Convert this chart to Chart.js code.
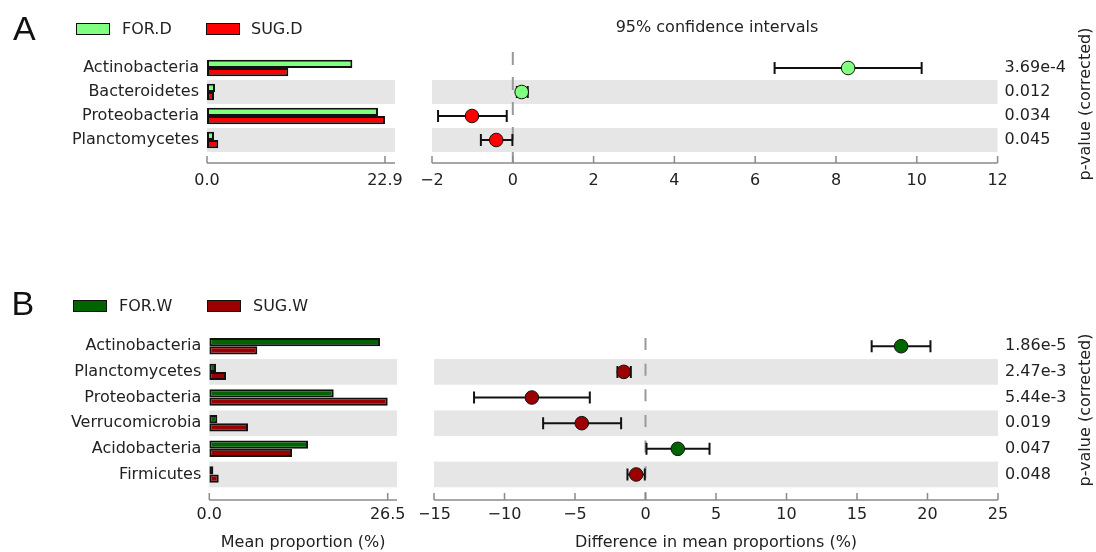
<!DOCTYPE html>
<html><head><meta charset="utf-8">
<script src="https://cdn.jsdelivr.net/npm/chart.js@4.4.0/dist/chart.umd.min.js"></script>
<style>
html,body{margin:0;padding:0;background:#fff;}
#wrap{position:relative;width:1096px;height:552px;overflow:hidden;font-family:'DejaVu Sans',sans-serif;color:#222;}
canvas{position:absolute;}
.txt{position:absolute;white-space:nowrap;font-size:16px;line-height:16px;transform:translateY(-50%);}
.ctr{position:absolute;white-space:nowrap;font-size:16px;line-height:16px;transform:translate(-50%,-50%);}
.letter{position:absolute;font-family:'Liberation Sans',sans-serif;font-size:34px;line-height:34px;color:#111;}
.lbox{position:absolute;box-sizing:border-box;width:34px;height:12px;border:1.5px solid #111;}
.rot{position:absolute;white-space:nowrap;font-size:16px;line-height:16px;transform:translate(-50%,-50%) rotate(-90deg);}
</style></head>
<body><div id="wrap">
<canvas id="barA" width="420" height="200" style="left:0;top:0"></canvas>
<canvas id="ciA" width="676" height="200" style="left:420px;top:0"></canvas>
<canvas id="barB" width="420" height="272" style="left:0;top:280px"></canvas>
<canvas id="ciB" width="676" height="272" style="left:420px;top:280px"></canvas>
</div>
<script>
// ---------- Panel A data ----------
const categoriesA = ['Actinobacteria', 'Bacteroidetes', 'Proteobacteria', 'Planctomycetes'];
const seriesNamesA = ['FOR.D', 'SUG.D'];
const forD = [18.7, 1.03, 22.0, 0.9];
const sugD = [10.46, 0.9, 22.9, 1.45];
const diffA = [8.30, 0.22, -1.01, -0.41];
const ciLowA = [6.48, 0.10, -1.85, -0.79];
const ciHighA = [10.12, 0.37, -0.15, -0.01];
const pValuesA = ['3.69e-4', '0.012', '0.034', '0.045'];
const barTicksA = [0, 22.9];
const ciTicksA = [-2, 0, 2, 4, 6, 8, 10, 12];

// ---------- Panel B data ----------
const categoriesB = ['Actinobacteria', 'Planctomycetes', 'Proteobacteria', 'Verrucomicrobia', 'Acidobacteria', 'Firmicutes'];
const seriesNamesB = ['FOR.W', 'SUG.W'];
const forW = [25.36, 1.0, 18.48, 1.19, 14.67, 0.6];
const sugW = [7.13, 2.48, 26.5, 5.75, 12.29, 1.4];
const diffB = [18.13, -1.54, -8.06, -4.52, 2.29, -0.66];
const ciLowB = [16.04, -1.99, -12.16, -7.26, 0.07, -1.28];
const ciHighB = [20.21, -1.04, -3.95, -1.73, 4.54, -0.05];
const pValuesB = ['1.86e-5', '2.47e-3', '5.44e-3', '0.019', '0.047', '0.048'];
const barTicksB = [0, 26.5];
const ciTicksB = [-15, -10, -5, 0, 5, 10, 15, 20, 25];

const colorsA = ['#80ff80', '#ff0000'];
const colorsB = ['#006400', '#9b0000'];

Chart.defaults.font.family = "'DejaVu Sans', sans-serif";
Chart.defaults.font.size = 16;
Chart.defaults.color = '#222';
Chart.defaults.animation = false;

const fmtMinus = v => (v < 0 ? '\u2212' + Math.abs(v) : String(v));

const panelPlugin = {
  id: 'panel',
  beforeDatasetsDraw(chart, args, o) {
    const {ctx, chartArea: a} = chart;
    const ys = chart.scales.y;
    const rowH = (a.bottom - a.top) / o.n;
    ctx.save();
    ctx.fillStyle = '#e6e6e6';
    for (let i = 1; i < o.n; i += 2) {
      const c = ys.getPixelForValue(i);
      ctx.fillRect(a.left, c - rowH / 2, a.right - a.left, rowH);
    }
    if (o.zero) {
      const x = chart.scales.x.getPixelForValue(0);
      ctx.strokeStyle = '#999';
      ctx.lineWidth = 2;
      ctx.setLineDash(o.dash);
      ctx.beginPath();
      ctx.moveTo(x, o.zeroTop);
      ctx.lineTo(x, a.bottom + o.gap);
      ctx.stroke();
    }
    ctx.restore();
  },
  afterDraw(chart, args, o) {
    const {ctx, chartArea: a} = chart;
    const xs = chart.scales.x;
    const y = a.bottom + o.gap;
    ctx.save();
    ctx.strokeStyle = '#8a8a8a';
    ctx.lineWidth = 1.5;
    ctx.beginPath();
    ctx.moveTo(a.left, y);
    ctx.lineTo(a.right, y);
    xs.ticks.forEach(t => {
      const x = xs.getPixelForValue(t.value);
      ctx.moveTo(x, y);
      ctx.lineTo(x, y - 7);
    });
    ctx.stroke();
    ctx.restore();
  }
};

const noGrid = {display: false, drawTicks: false, tickLength: 0};

function barChart(id, cats, names, s1, s2, colors, ticks, xmax, g) {
  return new Chart(document.getElementById(id), {
    type: 'bar',
    data: {labels: cats, datasets: [
      {label: names[0], data: s1, backgroundColor: colors[0]},
      {label: names[1], data: s2, backgroundColor: colors[1]}
    ]},
    options: {
      indexAxis: 'y', responsive: false, animation: false,
      layout: {padding: {left: 0, right: g.right, top: g.top, bottom: 0}},
      datasets: {bar: {borderColor: '#111', borderWidth: 2, borderSkipped: false,
        categoryPercentage: g.cat, barPercentage: 1}},
      plugins: {legend: {display: false}, tooltip: {enabled: false},
        panel: {n: cats.length, gap: g.gap, zero: false}},
      scales: {
        x: {type: 'linear', min: 0, max: xmax, grid: noGrid, border: {display: false},
          afterBuildTicks: s => { s.ticks = ticks.map(v => ({value: v})); },
          ticks: {padding: g.tickPad, maxRotation: 0, autoSkip: false, callback: v => Number(v).toFixed(1)},
          afterFit: s => { s.height = g.xh; s.paddingLeft = 0; s.paddingRight = 0; },
          title: g.title ? {display: true, text: g.title, padding: 0} : {display: false}},
        y: {grid: noGrid, border: {display: false},
          ticks: {padding: 8, autoSkip: false},
          afterFit: s => { s.width = g.yw; s.paddingTop = 0; s.paddingBottom = 0; }}
      }
    },
    plugins: [panelPlugin]
  });
}

function ciChart(id, diff, lo, hi, pvals, colors, ticks, g) {
  const n = diff.length;
  const datasets = [{
    type: 'scatter', label: 'difference',
    data: diff.map((d, i) => ({x: d, y: i})),
    pointRadius: 6.8, pointBackgroundColor: diff.map(d => d >= 0 ? colors[0] : colors[1]),
    pointBorderColor: '#111', pointBorderWidth: 1, showLine: false
  }];
  lo.forEach((l, i) => datasets.push({
    type: 'line', label: 'ci' + i,
    data: [{x: l, y: i}, {x: hi[i], y: i}],
    borderColor: '#111', borderWidth: 2, fill: false,
    pointStyle: 'line', pointRotation: 90, pointRadius: 6,
    pointBorderColor: '#111', pointBorderWidth: 2
  }));
  return new Chart(document.getElementById(id), {
    type: 'scatter',
    data: {datasets},
    options: {
      responsive: false, animation: false,
      layout: {padding: {left: g.left, right: 0, top: g.top, bottom: 0}},
      plugins: {legend: {display: false}, tooltip: {enabled: false},
        panel: {n, gap: g.gap, zero: true, dash: g.dash, zeroTop: g.zeroTop}},
      scales: {
        x: {type: 'linear', min: ticks[0], max: ticks[ticks.length - 1],
          grid: noGrid, border: {display: false},
          afterBuildTicks: s => { s.ticks = ticks.map(v => ({value: v})); },
          ticks: {padding: g.tickPad, maxRotation: 0, autoSkip: false, callback: v => fmtMinus(v)},
          afterFit: s => { s.height = g.xh; s.paddingLeft = 0; s.paddingRight = 0; },
          title: g.title ? {display: true, text: g.title, padding: 0} : {display: false}},
        y: {type: 'linear', position: 'right', reverse: true, min: -0.5, max: n - 0.5,
          grid: noGrid, border: {display: false},
          afterBuildTicks: s => { s.ticks = pvals.map((p, i) => ({value: i})); },
          ticks: {padding: 7, autoSkip: false, callback: (v, i) => pvals[i]},
          afterFit: s => { s.width = g.yw; s.paddingTop = 0; s.paddingBottom = 0; }}
      }
    },
    plugins: [panelPlugin]
  });
}

barChart('barA', categoriesA, seriesNamesA, forD, sugD, colorsA, barTicksA, 24.19,
  {right: 25, top: 56, xh: 48, yw: 207, gap: 11, tickPad: 19, cat: 0.68});
ciChart('ciA', diffA, ciLowA, ciHighA, pValuesA, colorsA, ciTicksA,
  {left: 12, top: 56, xh: 48, yw: 98.4, gap: 11, tickPad: 19, dash: [13, 12], zeroTop: 52});
barChart('barB', categoriesB, seriesNamesB, forW, sugW, colorsB, barTicksB, 27.88,
  {right: 23, top: 53.4, xh: 64.7, yw: 209.3, gap: 12.7, tickPad: 18, cat: 0.64, title: 'Mean proportion (%)'});
ciChart('ciB', diffB, ciLowB, ciHighB, pValuesB, colorsB, ciTicksB,
  {left: 14, top: 53.4, xh: 64.7, yw: 98, gap: 12.7, tickPad: 18, dash: [12, 13.65], zeroTop: 58,
   title: 'Difference in mean proportions (%)'});

// ---------- HTML annotations ----------
const wrap = document.getElementById('wrap');
function add(cls, text, style) {
  const d = document.createElement('div');
  d.className = cls;
  if (text !== null) d.textContent = text;
  Object.assign(d.style, style);
  wrap.appendChild(d);
  return d;
}
function legend(names, colors, boxX, textX, yTop) {
  names.forEach((nm, i) => {
    add('lbox', null, {left: boxX[i] + 'px', top: yTop + 'px', background: colors[i]});
    add('txt', nm, {left: textX[i] + 'px', top: (yTop + 6) + 'px'});
  });
}
add('letter', 'A', {left: '13px', top: '10.5px'});
add('letter', 'B', {left: '11.5px', top: '285.5px'});
legend(seriesNamesA, colorsA, [76, 206], [122, 251], 22.5);
legend(seriesNamesB, colorsB, [73, 207], [119, 253], 299.5);
add('ctr', '95% confidence intervals', {left: '717px', top: '27px'});
add('rot', 'p-value (corrected)', {left: '1085px', top: '104px'});
add('rot', 'p-value (corrected)', {left: '1085px', top: '410px'});
</script>
</body></html>
